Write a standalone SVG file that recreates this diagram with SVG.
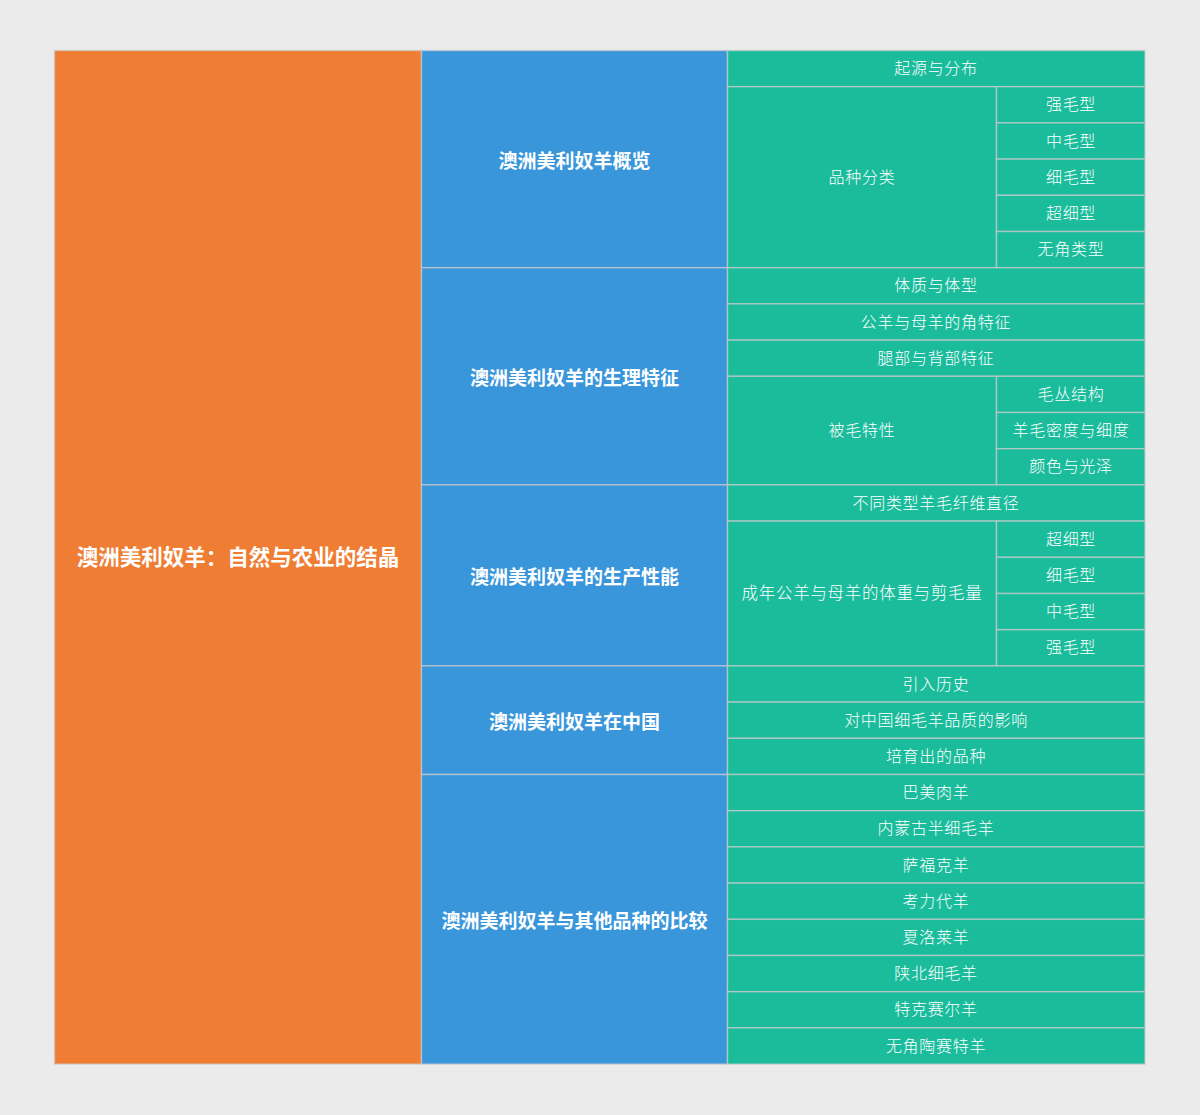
<svg xmlns="http://www.w3.org/2000/svg" width="1200" height="1115" viewBox="0 0 1200 1115">
<style>
.o{fill:#ef7d33}
.b{fill:#3a96db}
.g{fill:#1abc9c}
rect.n{stroke:#cccccc;stroke-opacity:0.65;stroke-width:1.5}
text{fill:#ffffff;text-anchor:middle;dominant-baseline:central;font-family:"Noto Sans CJK SC","Noto Sans",sans-serif}
.t0{font-size:21.5px;font-weight:700;transform:translateY(-1.5px)}
.t1{font-size:19px;font-weight:700}
.t2{font-size:16px;font-weight:300;letter-spacing:0.7px;transform:translateY(-1.5px)}
</style>
<rect x="0" y="0" width="1200" height="1115" fill="#ebebeb"/>
<g id="root"><rect class="n o" x="54.5" y="50.5" width="367" height="1013.6"/><text class="t0" x="238" y="557.3">澳洲美利奴羊：自然与农业的结晶</text></g>

<g id="overview">
<rect class="n b" x="421.5" y="50.5" width="306" height="217.2"/><text class="t1" x="574.5" y="159.1">澳洲美利奴羊概览</text>
</g>
<g id="physio">
<rect class="n b" x="421.5" y="267.7" width="306" height="217.2"/><text class="t1" x="574.5" y="376.3">澳洲美利奴羊的生理特征</text>
</g>
<g id="production">
<rect class="n b" x="421.5" y="484.9" width="306" height="181"/><text class="t1" x="574.5" y="575.4">澳洲美利奴羊的生产性能</text>
</g>
<g id="china">
<rect class="n b" x="421.5" y="665.9" width="306" height="108.6"/><text class="t1" x="574.5" y="720.2">澳洲美利奴羊在中国</text>
</g>
<g id="compare">
<rect class="n b" x="421.5" y="774.5" width="306" height="289.6"/><text class="t1" x="574.5" y="919.3">澳洲美利奴羊与其他品种的比较</text>
</g>

<g id="origin"><rect class="n g" x="727.5" y="50.5" width="417.5" height="36.2"/><text class="t2" x="936" y="68.6">起源与分布</text></g>
<g id="breeds"><rect class="n g" x="727.5" y="86.7" width="269" height="181"/><text class="t2" x="862" y="177.2">品种分类</text></g>
<g id="b1"><rect class="n g" x="996.5" y="86.7" width="148.5" height="36.2"/><text class="t2" x="1071" y="104.8">强毛型</text></g>
<g id="b2"><rect class="n g" x="996.5" y="122.9" width="148.5" height="36.2"/><text class="t2" x="1071" y="141">中毛型</text></g>
<g id="b3"><rect class="n g" x="996.5" y="159.1" width="148.5" height="36.2"/><text class="t2" x="1071" y="177.2">细毛型</text></g>
<g id="b4"><rect class="n g" x="996.5" y="195.3" width="148.5" height="36.2"/><text class="t2" x="1071" y="213.4">超细型</text></g>
<g id="b5"><rect class="n g" x="996.5" y="231.5" width="148.5" height="36.2"/><text class="t2" x="1071" y="249.6">无角类型</text></g>

<g id="p1"><rect class="n g" x="727.5" y="267.7" width="417.5" height="36.2"/><text class="t2" x="936" y="285.8">体质与体型</text></g>
<g id="p2"><rect class="n g" x="727.5" y="303.9" width="417.5" height="36.2"/><text class="t2" x="936" y="322">公羊与母羊的角特征</text></g>
<g id="p3"><rect class="n g" x="727.5" y="340.1" width="417.5" height="36.2"/><text class="t2" x="936" y="358.2">腿部与背部特征</text></g>
<g id="fleece"><rect class="n g" x="727.5" y="376.3" width="269" height="108.6"/><text class="t2" x="862" y="430.6">被毛特性</text></g>
<g id="f1"><rect class="n g" x="996.5" y="376.3" width="148.5" height="36.2"/><text class="t2" x="1071" y="394.4">毛丛结构</text></g>
<g id="f2"><rect class="n g" x="996.5" y="412.5" width="148.5" height="36.2"/><text class="t2" x="1071" y="430.6">羊毛密度与细度</text></g>
<g id="f3"><rect class="n g" x="996.5" y="448.7" width="148.5" height="36.2"/><text class="t2" x="1071" y="466.8">颜色与光泽</text></g>

<g id="d1"><rect class="n g" x="727.5" y="484.9" width="417.5" height="36.2"/><text class="t2" x="936" y="503">不同类型羊毛纤维直径</text></g>
<g id="weight"><rect class="n g" x="727.5" y="521.1" width="269" height="144.8"/><text class="t2" x="862" y="593.5" style="font-size:16.5px">成年公羊与母羊的体重与剪毛量</text></g>
<g id="w1"><rect class="n g" x="996.5" y="521.1" width="148.5" height="36.2"/><text class="t2" x="1071" y="539.2">超细型</text></g>
<g id="w2"><rect class="n g" x="996.5" y="557.3" width="148.5" height="36.2"/><text class="t2" x="1071" y="575.4">细毛型</text></g>
<g id="w3"><rect class="n g" x="996.5" y="593.5" width="148.5" height="36.2"/><text class="t2" x="1071" y="611.6">中毛型</text></g>
<g id="w4"><rect class="n g" x="996.5" y="629.7" width="148.5" height="36.2"/><text class="t2" x="1071" y="647.8">强毛型</text></g>

<g id="c1"><rect class="n g" x="727.5" y="665.9" width="417.5" height="36.2"/><text class="t2" x="936" y="684">引入历史</text></g>
<g id="c2"><rect class="n g" x="727.5" y="702.1" width="417.5" height="36.2"/><text class="t2" x="936" y="720.2">对中国细毛羊品质的影响</text></g>
<g id="c3"><rect class="n g" x="727.5" y="738.3" width="417.5" height="36.2"/><text class="t2" x="936" y="756.4">培育出的品种</text></g>

<g id="e1"><rect class="n g" x="727.5" y="774.5" width="417.5" height="36.2"/><text class="t2" x="936" y="792.6">巴美肉羊</text></g>
<g id="e2"><rect class="n g" x="727.5" y="810.7" width="417.5" height="36.2"/><text class="t2" x="936" y="828.8">内蒙古半细毛羊</text></g>
<g id="e3"><rect class="n g" x="727.5" y="846.9" width="417.5" height="36.2"/><text class="t2" x="936" y="865">萨福克羊</text></g>
<g id="e4"><rect class="n g" x="727.5" y="883.1" width="417.5" height="36.2"/><text class="t2" x="936" y="901.2">考力代羊</text></g>
<g id="e5"><rect class="n g" x="727.5" y="919.3" width="417.5" height="36.2"/><text class="t2" x="936" y="937.4">夏洛莱羊</text></g>
<g id="e6"><rect class="n g" x="727.5" y="955.5" width="417.5" height="36.2"/><text class="t2" x="936" y="973.6">陕北细毛羊</text></g>
<g id="e7"><rect class="n g" x="727.5" y="991.7" width="417.5" height="36.2"/><text class="t2" x="936" y="1009.8">特克赛尔羊</text></g>
<g id="e8"><rect class="n g" x="727.5" y="1027.9" width="417.5" height="36.2"/><text class="t2" x="936" y="1046">无角陶赛特羊</text></g>
<g id="connectors"/>
</svg>
